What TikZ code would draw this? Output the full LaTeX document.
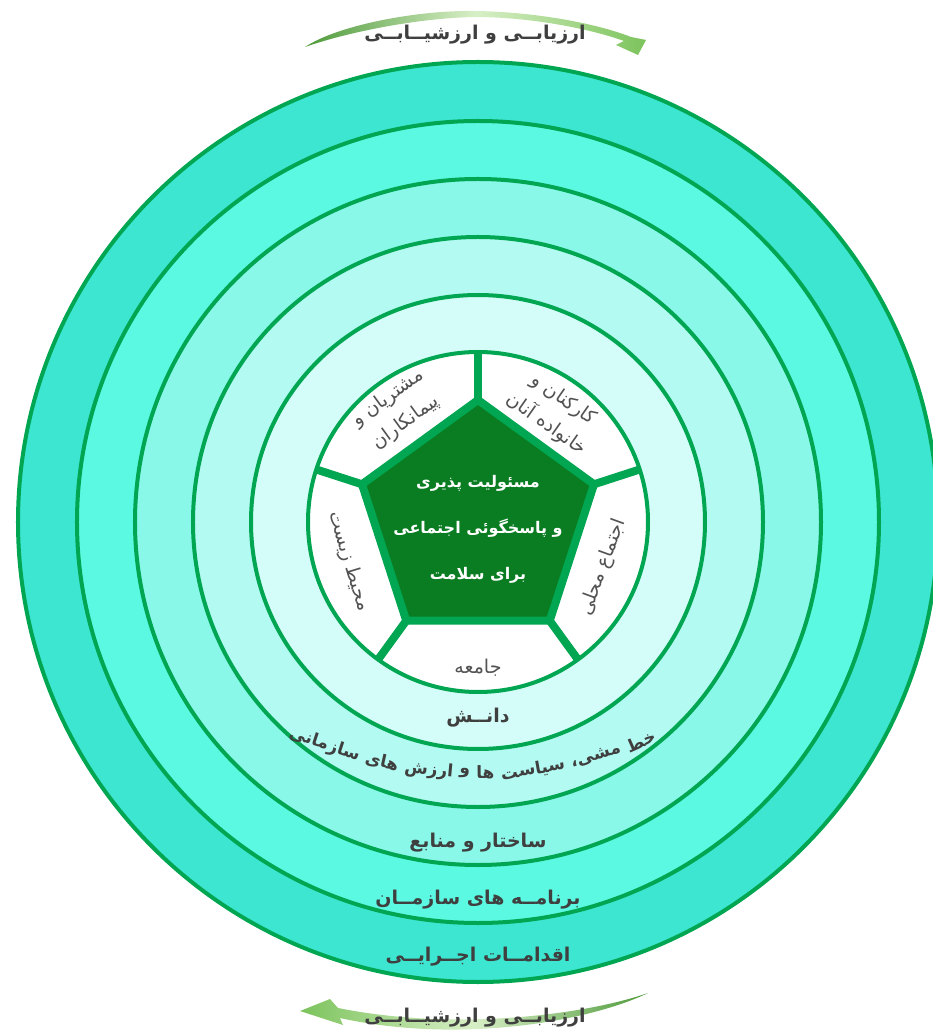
\documentclass[tikz,border=0pt]{standalone}
\usepackage{fontspec}
\usepackage{tikz}
\usetikzlibrary{arrows.meta,calc,positioning,shapes.geometric}
\newfontfamily\arabicfont[Script=Arabic]{DejaVu Sans}
\TeXXeTstate=1
\newcommand{\rtl}[1]{\beginR #1\endR}
\newcommand{\bandfont}{\arabicfont\bfseries\fontsize{19}{23}\selectfont}
\definecolor{Grass}{HTML}{00A651}
\definecolor{Forest}{HTML}{0A7D22}
\definecolor{Ink}{HTML}{3F3F3F}
\definecolor{BandA}{HTML}{3DE6D0}
\definecolor{BandB}{HTML}{5CF9E2}
\definecolor{BandC}{HTML}{8AF8E9}
\definecolor{BandD}{HTML}{B3FAF2}
\definecolor{BandE}{HTML}{D4FCF8}
\definecolor{LeafDark}{HTML}{4E9A3A}
\definecolor{LeafMid}{HTML}{7CC35C}
\definecolor{LeafPale}{HTML}{D8EFC6}

\begin{document}
\begin{tikzpicture}[x=1pt,y=1pt,>=Latex,
    ring/.style={draw=Grass,line width=4pt},
    spoke/.style={draw=Grass,line width=8pt},
    seglabel/.style={font=\arabicfont\fontsize{19}{27}\selectfont,text=Ink!90,align=center,inner sep=0pt},
    bandlabel/.style={font=\bandfont,text=Ink,inner sep=0pt},
    arclabel/.style={bandlabel,font=\arabicfont\bfseries\fontsize{17}{21}\selectfont},
    corelabel/.style={font=\arabicfont\bfseries\fontsize{16}{22}\selectfont,text=white,align=center,inner sep=0pt}]
  \useasboundingbox (-478,-513) rectangle (455,522);

  % bands, outer to inner
  \foreach \r/\c in {460/BandA,401/BandB,343/BandC,285/BandD,227/BandE}
    \draw[ring,fill=\c] (0,0) circle (\r);
  \node[circle,draw=Grass,line width=4pt,fill=white,minimum size=340pt,
        inner sep=0pt,outer sep=0pt] (core) at (0,0) {};
  \node[regular polygon,regular polygon sides=5,minimum size=244pt,
        inner sep=0pt,outer sep=0pt,draw=Grass,line width=8pt,fill=Forest] (pent) at (0,0) {};
  \foreach \i/\a in {1/90,2/162,3/234,4/306,5/18}
    \draw[spoke] (pent.corner \i) -- (core.\a);

  \node[corelabel] (goal) at (0,-7) {
    \rtl{مسئولیت پذیری}\\[24pt]
    \rtl{و پاسخگوئی اجتماعی}\\[24pt]
    \rtl{برای سلامت}};

  % stakeholders
  \node[seglabel,rotate=36] (clients) at (126:138) {\rtl{مشتریان و}\\[3pt]\rtl{پیمانکاران}};
  \node[seglabel,rotate=-35] (staff) at (55:134) {\rtl{کارکنان و}\\[3pt]\rtl{خانواده آنان}};
  \node[seglabel,rotate=70] (local) at (-20:133) {\rtl{اجتماع محلی}};
  \node[seglabel] (society) at (270:146) {\rtl{جامعه}};
  \node[seglabel,rotate=-73] (env) at (197:135) {\rtl{محیط زیست}};

  % band labels
  \node[bandlabel] (know) at (0,-196) {\rtl{دانــش}};
  % policy line bent along an arc (centre (0,175), radius 426), word after word
  \coordinate (bend) at (0,175);
  \node[arclabel,anchor=east,rotate=24] (policy1) at ($(bend)+(-65.5:426)$) {\rtl{خط}};
  \foreach \w [count=\i from 2,remember=\i as \j (initially 1)] in {مشی،,سیاست,ها,و,ارزش,های,سازمانی}
    \path let \p1=($(policy\j.west)-(bend)$), \n1={atan2(\y1,\x1)-0.8} in
      node[arclabel,anchor=east,rotate=\n1+88] (policy\i) at ($(bend)+(\n1:426)$) {\rtl{\w}};
  \node[bandlabel] (struct) at (0,-321) {\rtl{ساختار و منابع}};
  \node[bandlabel] (prog) at (0,-378) {\rtl{برنامــه های سازمــان}};
  \node[bandlabel] (act) at (0,-435) {\rtl{اقدامــات اجــرایــی}};

  % evaluation arrows
  \shade[left color=LeafDark,right color=LeafMid,middle color=LeafPale]
    (-173,475) .. controls (-140,497) and (-60,512) .. (-3,511)
    .. controls (60,510) and (120,498) .. (153,485)
    -- (168,482) -- (160,467) -- (138,477) -- (146,481)
    .. controls (110,494) and (50,505) .. (-3,505)
    .. controls (-60,504) and (-130,490) .. (-173,475) -- cycle;
  \shade[left color=LeafMid,right color=LeafDark,middle color=LeafPale]
    (170,-471) .. controls (110,-492) and (-20,-510) .. (-140,-486)
    -- (-148,-477) -- (-178,-489) -- (-135,-503) -- (-138,-496)
    .. controls (-20,-522) and (110,-500) .. (170,-471) -- cycle;
  \node[bandlabel] (evaltop) at (-3,487) {\rtl{ارزیابــی و ارزشیــابــی}};
  \node[bandlabel] (evalbot) at (-3,-496) {\rtl{ارزیابــی و ارزشیــابــی}};
\end{tikzpicture}
\end{document}
